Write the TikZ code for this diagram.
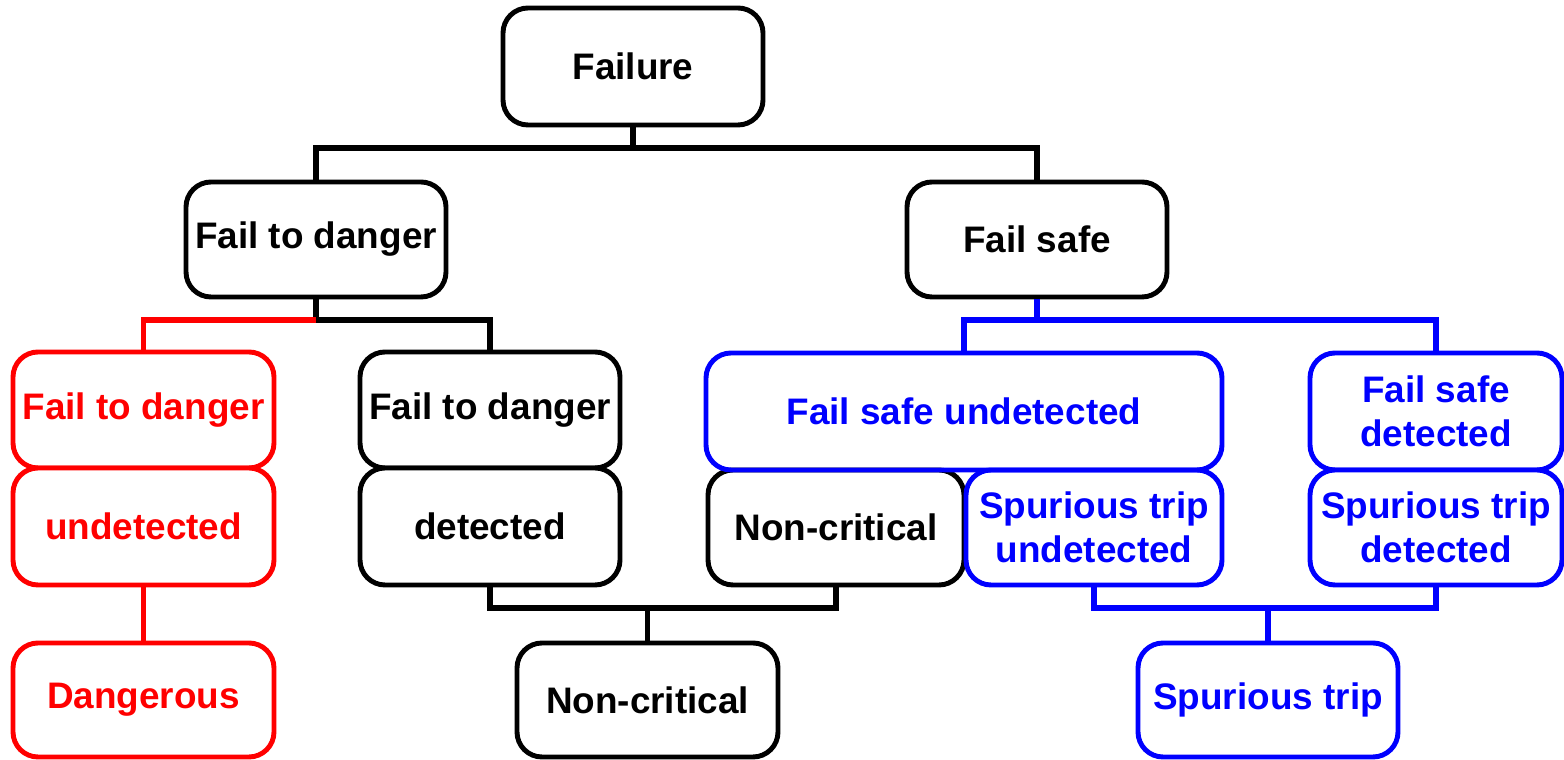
\documentclass[tikz,border=0pt]{standalone}
\usepackage{fontspec}
\setmainfont{Liberation Sans}
\begin{document}
\begin{tikzpicture}[
  box/.style={draw, line width=1.4pt, rounded corners=0.25cm, align=center,
    inner sep=0pt, font=\fontsize{10.5}{12.6}\selectfont\bfseries, fill=white},
  conn/.style={line width=1.6pt},
  redc/.style={draw=red, text=red},
  bluec/.style={draw=blue, text=blue}
]
\useasboundingbox (0,0) rectangle (15.64,-7.60);
% top
\node[box, minimum width=2.60cm, minimum height=1.17cm] (fail) at (6.33,-0.665) {Failure};
\node[box, minimum width=2.60cm, minimum height=1.15cm] (ftd) at (3.16,-2.395) {Fail to danger};
\node[box, minimum width=2.60cm, minimum height=1.15cm] (fs) at (10.37,-2.395) {Fail safe};
% red column
\node[box, redc, minimum width=2.61cm, minimum height=1.16cm] (ftdu1) at (1.435,-4.10) {Fail to danger};
\node[box, redc, minimum width=2.61cm, minimum height=1.17cm] (ftdu2) at (1.435,-5.265) {undetected};
\node[box, redc, minimum width=2.61cm, minimum height=1.14cm] (dang) at (1.435,-7.00) {Dangerous};
% black column
\node[box, minimum width=2.60cm, minimum height=1.16cm] (ftdd1) at (4.90,-4.10) {Fail to danger};
\node[box, minimum width=2.60cm, minimum height=1.17cm] (ftdd2) at (4.90,-5.265) {detected};
\node[box, minimum width=2.61cm, minimum height=1.14cm] (nc1) at (6.475,-7.00) {Non-critical};
% blue part
\node[box, minimum width=2.56cm, minimum height=1.15cm] (nc2) at (8.36,-5.275) {Non-critical};
\node[box, bluec, minimum width=2.56cm, minimum height=1.15cm] (stu) at (10.94,-5.275) {Spurious trip\\undetected};
\node[box, bluec, minimum width=5.16cm, minimum height=1.17cm, fill=none] (fsu) at (9.64,-4.115) {Fail safe undetected};
\node[box, bluec, minimum width=2.52cm, minimum height=1.17cm] (fsd) at (14.36,-4.115) {Fail safe\\detected};
\node[box, bluec, minimum width=2.52cm, minimum height=1.15cm] (std) at (14.36,-5.275) {Spurious trip\\detected};
\node[box, bluec, minimum width=2.60cm, minimum height=1.14cm] (st) at (12.68,-7.00) {Spurious trip};
% connectors
\coordinate (j1) at (6.33,-1.48);
\draw[conn] (fail.south) -- (j1);
\draw[conn] (ftd.north) |- (j1) -| (fs.north);
\coordinate (j2) at (3.16,-3.20);
\draw[conn] (ftd.south) -- (j2);
\draw[conn, red] (ftdu1.north) |- (j2);
\draw[conn] (j2) -| (ftdd1.north);
\draw[conn, red] (ftdu2.south) -- (dang.north);
\coordinate (j3) at (6.475,-6.08);
\draw[conn] (ftdd2.south) |- (j3) -| (nc2.south);
\draw[conn] (j3) -- (nc1.north);
\coordinate (j4) at (10.37,-3.20);
\draw[conn, blue] (fs.south) -- (j4);
\draw[conn, blue] (fsu.north) |- (j4) -| (fsd.north);
\coordinate (j5) at (12.68,-6.08);
\draw[conn, blue] (stu.south) |- (j5) -| (std.south);
\draw[conn, blue] (j5) -- (st.north);
\end{tikzpicture}
\end{document}
